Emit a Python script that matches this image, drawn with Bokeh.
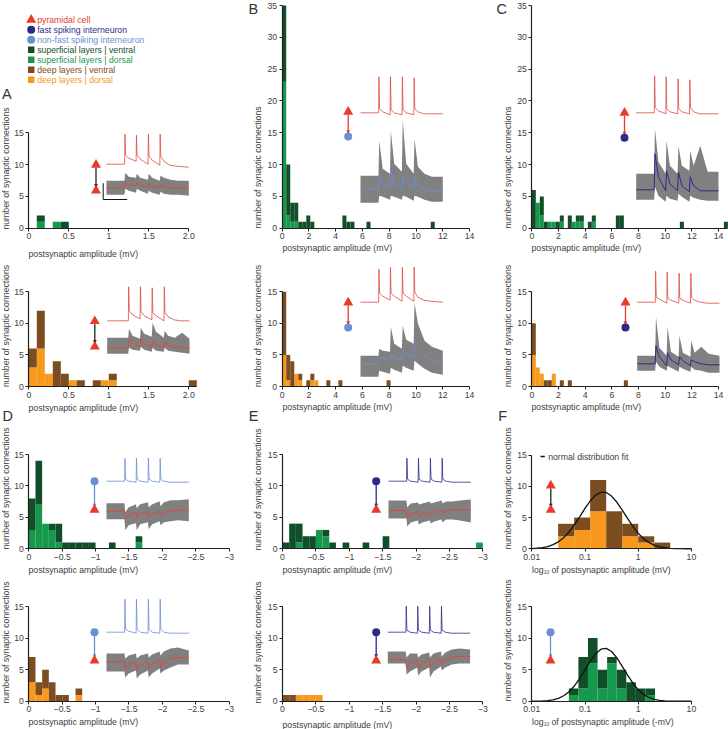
import math
from bokeh.plotting import figure
from bokeh.layouts import column, row
from bokeh.models import Range1d, LinearScale, FixedTicker, Label
from bokeh.embed import file_html
from bokeh.resources import INLINE

# ---------- colours ----------
RED = "#e8392a"; TRACE_RED = "#dd4a3f"; NAVY = "#2b2b87"; LIGHT = "#6c8fd2"
SV = "#114f2b"; SD = "#17994d"; DV = "#7d4d22"; DD = "#f8991d"
GREY = "#808080"; TXT = "#404040"; AXC = "#1e1e1e"
FONT = "Liberation Sans"; FS = "8.7px"

# ---------- histogram values (bin lefts, lower stack, upper stack) ----------
a1_lefts = [0.1, 0.3, 0.4]
a1_dorsal = [1, 1, 0]
a1_ventral = [1, 0, 1]
a2_lefts = [0, 0.1, 0.2, 0.3, 0.4, 0.5, 0.6, 0.8, 0.9, 1.0, 2.0]
a2_dorsal = [3, 6, 2, 0, 0, 1, 0, 0, 1, 1, 0]
a2_ventral = [3, 6, 0, 4, 2, 0, 1, 1, 0, 1, 1]
b1_lefts = [0, 0.3, 0.6, 0.9, 1.2, 1.5, 1.8, 2.1, 4.5, 4.8, 5.1, 6.3, 11.1]
b1_dorsal = [23, 2, 1, 1, 0, 0, 0, 0, 0, 0, 0, 0, 0]
b1_ventral = [12, 8, 3, 3, 1, 1, 2, 1, 2, 1, 1, 1, 1]
b2_lefts = [0, 0.3, 0.6, 0.9, 1.2, 1.8, 2.1, 2.4, 3.3, 4.2, 7.8]
b2_dorsal = [5, 1, 0, 2, 1, 0, 1, 1, 0, 0, 0]
b2_ventral = [10, 4, 4, 0, 1, 1, 1, 0, 1, 1, 1]
c1_lefts = [0, 0.3, 0.6, 0.9, 1.2, 1.5, 1.8, 2.1, 2.7, 3.0, 3.3, 3.6, 4.2, 4.5, 6.3, 6.6, 11.1, 14.4]
c1_dorsal = [0, 4, 2, 0, 1, 1, 0, 1, 0, 1, 1, 1, 0, 1, 0, 0, 0, 0]
c1_ventral = [6, 0, 3, 1, 0, 0, 1, 1, 2, 0, 1, 1, 1, 1, 2, 2, 1, 1]
c2_lefts = [0, 0.3, 0.6, 0.9, 1.2, 1.5, 2.1, 2.7, 6.9]
c2_dorsal = [5, 3, 2, 0, 0, 2, 0, 0, 0]
c2_ventral = [5, 0, 0, 1, 1, 0, 1, 1, 1]
d1_lefts = [0, -0.1, -0.2, -0.3, -0.4, -0.5, -0.6, -0.7, -0.8, -0.9, -1.2, -1.6]
d1_dorsal = [3, 7, 4, 3, 1, 0, 0, 0, 0, 0, 0, 1]
d1_ventral = [5, 7, 0, 1, 3, 1, 1, 1, 1, 1, 1, 1]
d2_lefts = [0, -0.1, -0.2, -0.3, -0.4, -0.5, -0.7]
d2_dorsal = [3, 1, 2, 0, 0, 0, 1]
d2_ventral = [4, 2, 3, 3, 1, 1, 1]
e1_lefts = [0, -0.1, -0.2, -0.3, -0.4, -0.5, -0.6, -0.7, -0.9, -1.2, -1.5, -2.9]
e1_dorsal = [0, 0, 1, 0, 0, 3, 2, 0, 0, 0, 0, 1]
e1_ventral = [1, 4, 3, 2, 2, 0, 1, 1, 1, 1, 2, 0]
e2_lefts = [0, -0.1, -0.2, -0.3, -0.4, -0.5]
e2_dorsal = [0, 0, 1, 1, 1, 1]
e2_ventral = [1, 1, 0, 0, 0, 0]
f1_edges = [1/32, 1/16, 1/8, 1/4, 1/2, 1, 2, 4]
f1_dorsal = [2, 3, 6, 0, 2, 1, 0]
f1_ventral = [2, 2, 5, 6, 2, 1, 1]
f2_log_edges = [-1.304, -1.124, -0.944, -0.764, -0.584, -0.404, -0.224, -0.044, 0.136, 0.316]
f2_dorsal = [1, 2, 6, 2, 6, 2, 0, 0, 1]
f2_ventral = [1, 5, 4, 3, 1, 3, 3, 2, 1]

# normal fit curves
fit_logx = [-2.0, -1.9, -1.8, -1.7, -1.6, -1.5, -1.4, -1.3, -1.2, -1.1, -1.0, -0.9, -0.8, -0.7, -0.6, -0.5,
            -0.4, -0.3, -0.2, -0.1, 0.0, 0.1, 0.2, 0.3, 0.4, 0.5, 0.6, 0.7, 0.8, 0.9, 1.0]
f1_fit = [0.04, 0.09, 0.19, 0.36, 0.66, 1.11, 1.78, 2.69, 3.82, 5.11, 6.45, 7.67, 8.59, 9.05, 9.0, 8.43,
          7.44, 6.19, 4.85, 3.58, 2.48, 1.63, 1.01, 0.59, 0.32, 0.17, 0.08, 0.04, 0.02, 0, 0]
f2_fit = [0.01, 0.02, 0.04, 0.10, 0.22, 0.46, 0.86, 1.49, 2.41, 3.59, 4.96, 6.35, 7.52, 8.24, 8.37, 7.87,
          6.85, 5.52, 4.13, 2.85, 1.82, 1.08, 0.59, 0.30, 0.14, 0.06, 0.02, 0.01, 0, 0, 0]

# ---------- inset recordings ----------
spikes_std = [0.22, 0.36, 0.505, 0.648]
spikes_a2 = [0.257, 0.40, 0.543, 0.69]
a1_pre = [0,0,30,9,6,3,29,9,5,0,30,8,4,-1,30,8,3,-1,-2,-3]
a2_pre = [0,0,34,10,6,2,34,9,5,1,33,8,5,0,34,8,4,1,0,0]
b1_pre = [0,0,36,4,1,-2,36,3,0,-2,36,3,0,-2,35,4,1,-1,-1,-1]
b2_pre = [0,0,33,9,6,2,35,9,6,1,35,9,6,1,35,10,5,2,1,0]
c1_pre = [0,0,37,5,2,-1,36,4,1,-1,34,4,1,-1,33,5,1,-1,-1,-1]
c2_pre = [0,0,31,5,3,-1,30,4,2,-1,29,4,2,-1,29,5,2,0,-1,-1]
d1_pre = [0,0,23,2,0,-1,23,2,0,-1,23,2,0,-1,23,2,0,-1,-1,-1]
d2_pre = [0,0,33,3,1,-1,33,3,0,-1,33,3,0,-1,33,3,0,-1,-1,-1]
e1_pre = [0,0,23,2,0,-1,23,2,0,-1,23,2,0,-1,23,2,0,-1,-1,-1]
e2_pre = [0,0,26,2,0,-1,26,2,0,-1,26,2,0,-1,26,2,0,-1,-1,-1]

a1_up = [7,7,7,15,11,10,14,10,8,14,10,7,12,10,8,7,7]
a1_lo = [-7,-7,-7,-1,-3,-5,-1,-3,-6,-3,-5,-7,-4,-6,-7,-7,-8]
a1_mean = [0,0,0,6,3,2,5,3,1,4,2,0,3,1,0,0,0]
a2_up = [10,10,10,19,12,9,20,14,11,25,16,10,17,12,10,15,9]
a2_lo = [-6,-6,-6,0,-2,-3,1,-2,-4,0,-3,-4,0,-3,-4,-5,-6]
a2_mean = [0,0,0,9,5,1,9,4,0,7,3,0,7,2,1,0,0]
b1_up = [13,13,13,48,20,15,58,25,17,69,25,15,50,22,15,12,12]
b1_lo = [-14,-14,-14,-7,-8,-11,-7,-8,-11,-7,-8,-12,-7,-8,-11,-13,-13]
b1_mean = [0,0,0,12,5,1,18,5,1,13,6,0,12,4,-1,-2,-2]
b2_up = [8,8,8,15,13,12,37,20,15,38,24,20,61,40,23,17,13]
b2_lo = [-13,-13,-13,-7,-8,-10,-4,-6,-9,-2,-4,-7,3,0,-5,-9,-11]
b2_mean = [0,0,0,7,5,3,8,7,4,13,10,7,19,15,8,3,1]
c1_up = [16,16,16,61,28,16,49,24,16,44,24,19,39,24,44,18,18]
c1_lo = [-10,-10,-10,3,-6,-12,-6,-9,-11,-4,-7,-12,-6,-8,-10,-11,-11]
c1_mean = [0,0,0,36,13,-1,19,6,-1,18,4,-2,13,4,-1,-1,-1]
c2_up = [8,8,8,47,16,8,37,12,7,28,11,7,23,11,17,10,8]
c2_lo = [-7,-7,-7,2,-3,-7,-2,-4,-8,-3,-5,-8,-3,-6,-7,-9,-9]
c2_mean = [0,0,0,18,7,-2,11,4,-1,7,3,-2,4,2,0,-1,-1]
d1_up = [8,8,8,-1,4,7,3,7,9,4,7,10,5,9,11,11,12]
d1_lo = [-8,-8,-8,-19,-14,-12,-19,-13,-11,-18,-13,-10,-14,-11,-10,-9,-10]
d1_mean = [0,0,0,-8,-4,-1,-7,-3,-1,-6,-3,0,-4,-1,0,1,1]
d2_up = [8,8,8,3,6,8,3,6,8,4,7,10,6,10,13,14,11]
d2_lo = [-10,-10,-10,-16,-12,-9,-17,-13,-9,-16,-12,-7,-12,-9,-6,-3,-3]
d2_mean = [0,0,0,-8,-3,-1,-9,-4,0,-7,-2,2,-6,-1,3,4,4]
e1_up = [10,10,10,3,7,8,6,7,9,7,8,10,7,9,9,10,11]
e1_lo = [-8,-8,-8,-16,-12,-10,-14,-12,-10,-13,-11,-9,-12,-9,-9,-10,-12]
e1_mean = [0,0,0,-7,-3,-1,-6,-3,-1,-5,-2,0,-3,-1,1,1,1]
e2_up = [8,8,8,2,6,6,2,5,7,2,6,8,3,7,10,11,10]
e2_lo = [-4,-4,-4,-15,-12,-8,-16,-12,-8,-18,-12,-7,-11,-8,-5,-4,-4]
e2_mean = [0,0,0,-9,-4,-1,-9,-4,0,-8,-3,1,-5,-1,2,3,3]

# ---------- tick labels / texts ----------
legend_items = [("pyramidal cell", RED), ("fast spiking interneuron", NAVY), ("non-fast spiking interneuron", LIGHT),
                ("superficial layers | ventral", SV), ("superficial layers | dorsal", SD),
                ("deep layers | ventral", DV), ("deep layers | dorsal", DD)]
XLAB = "postsynaptic amplitude (mV)"; YLAB = "number of synaptic connections"
ticks_a = {0: "0", 0.5: "0.5", 1: "1", 1.5: "1.5", 2: "2.0"}
ticks_b = {v: str(v) for v in (0, 2, 4, 6, 8, 10, 12, 14)}
ticks_d = {0: "0", -0.5: "\u22120.5", -1: "\u22121", -1.5: "\u22121.5", -2: "\u22122", -2.5: "\u22122.5", -3: "\u22123"}
ticks_f = {0.01: "0.01", 0.1: "0.1", 1: "1", 10: "10"}
y15 = [0, 5, 10, 15]; y35 = [0, 5, 10, 15, 20, 25, 30, 35]

# ---------- layout geometry of the sheet ----------
COLS = [(0, 240), (240, 490), (490, 728)]
ROWS = [(0, 260), (260, 425), (425, 577), (577, 729)]


def panel(c, r, x0, y0, ytop, ymax, xscale, ticks, xbound, yticks, log=False):
    """Each cell's plot frame fills the cell; axes are pinned at x0 / y0 inside it."""
    cl, cr = COLS[c]; rt, rb = ROWS[r]
    yscale = (y0 - ytop) / ymax
    sign = 1 if xbound[1] > 0 else -1
    if log:
        xr = Range1d(10 ** (-2 - (x0 - cl) / xscale), 10 ** ((cr - x0) / xscale - 2))
    else:
        xr = Range1d(-sign * (x0 - cl) / xscale, sign * (cr - x0) / xscale)
    p = figure(width=cr - cl, height=rb - rt, x_range=xr,
               y_range=Range1d(-(rb - y0) / yscale, (y0 - rt) / yscale),
               x_axis_type="log" if log else "linear",
               toolbar_location=None, output_backend="svg",
               min_border_left=0, min_border_right=0, min_border_top=0, min_border_bottom=0)
    p.extra_x_ranges = {"px": Range1d(cl, cr)}
    p.extra_y_ranges = {"px": Range1d(rb, rt)}
    p.extra_x_scales = {"px": LinearScale()}
    p.extra_y_scales = {"px": LinearScale()}
    p.outline_line_color = None
    p.grid.visible = False
    p.background_fill_color = None
    p.xaxis.fixed_location = 0
    p.yaxis.fixed_location = 0.01 if log else 0
    for ax, tk, bd in ((p.xaxis, ticks, xbound), (p.yaxis, {v: str(v) for v in yticks}, (0, ymax))):
        ax.ticker = FixedTicker(ticks=list(tk.keys()))
        ax.major_label_overrides = tk
        ax.bounds = bd
        ax.axis_line_color = AXC; ax.axis_line_width = 1.2
        ax.major_tick_line_color = AXC; ax.major_tick_line_width = 1
        ax.major_tick_out = 3; ax.major_tick_in = 0
        ax.minor_tick_line_color = None
        ax.major_label_text_font = FONT; ax.major_label_text_font_size = FS
        ax.major_label_text_color = TXT
        ax.major_label_standoff = 2
    return p


def txt(p, x, y, s, size=FS, color=TXT, angle=0.0, align="left"):
    p.add_layout(Label(x=x, y=y, text=s, x_range_name="px", y_range_name="px",
                       text_font=FONT, text_font_size=size, text_color=color,
                       text_baseline="middle", text_align=align, angle=angle))


def bars(p, lefts, width, dorsal, ventral, cd, cv):
    rights = [l + width for l in lefts]
    tops = [a + b for a, b in zip(dorsal, ventral)]
    p.quad(left=lefts, right=rights, bottom=[0] * len(lefts), top=dorsal, fill_color=cd, line_color=None)
    p.quad(left=lefts, right=rights, bottom=dorsal, top=tops, fill_color=cv, line_color=None)


def log_bars(p, edges, dorsal, ventral, cd, cv):
    tops = [a + b for a, b in zip(dorsal, ventral)]
    p.quad(left=edges[:-1], right=edges[1:], bottom=[0] * len(dorsal), top=dorsal, fill_color=cd, line_color=None)
    p.quad(left=edges[:-1], right=edges[1:], bottom=dorsal, top=tops, fill_color=cv, line_color=None)


def pre_t(s):
    t = [0.0]
    for k in s:
        t += [k, k + 0.004, k + 0.012, k + 0.05]
    return t[:-4] + [s[3], s[3] + 0.004, s[3] + 0.012, s[3] + 0.05, s[3] + 0.12, s[3] + 0.2, 1.0]


def post_t(s):
    t = [0.0, 0.1]
    for k in s:
        t += [k - 0.002, k + 0.008, k + 0.05]
    return t + [s[3] + 0.13, s[3] + 0.22, 1.0]


def inset(p, xl, ypre, ypost, pre, up, lo, mean, cpre, cmean, spikes=spikes_std, wd=82.3):
    tp = pre_t(spikes); tq = post_t(spikes)
    xp = [xl + a * wd for a in tp]; xq = [xl + a * wd for a in tq]
    p.line(xp, [ypre - v for v in pre], x_range_name="px", y_range_name="px", line_color=cpre, line_width=0.8)
    p.varea(xq, [ypost - v for v in up], [ypost - v for v in lo], x_range_name="px", y_range_name="px", fill_color=GREY)
    p.line(xq, [ypost - v for v in mean], x_range_name="px", y_range_name="px", line_color=cmean, line_width=1.0)


def link(p, x, ytop_s, ybot_s, line_col, head_col):
    p.line([x, x], [ytop_s + 3, ybot_s - 3], x_range_name="px", y_range_name="px", line_color=line_col, line_width=1.3)
    p.scatter([x], [ybot_s - 5], marker="inverted_triangle", size=4, x_range_name="px", y_range_name="px",
              fill_color=head_col, line_color=None)


def tri(p, x, y):
    p.scatter([x], [y], marker="triangle", size=10, x_range_name="px", y_range_name="px", fill_color=RED, line_color=None)


def dot(p, x, y, col):
    p.scatter([x], [y], marker="circle", size=8, x_range_name="px", y_range_name="px", fill_color=col, line_color=None)


# ---------- panels ----------
a1 = panel(0, 0, 28.3, 227.7, 132.3, 15, 80, ticks_a, (0, 2), y15)
a2 = panel(0, 1, 28.3, 386, 291.3, 15, 80, ticks_a, (0, 2.1), y15)
b1 = panel(1, 0, 281.7, 227.7, 5, 35, 13.38, ticks_b, (0, 14), y35)
b2 = panel(1, 1, 281.7, 386, 291.3, 15, 13.38, ticks_b, (0, 14), y15)
c1 = panel(2, 0, 531.3, 227.7, 5, 35, 13.34, ticks_b, (0, 14.7), y35)
c2 = panel(2, 1, 531.3, 386, 291.3, 15, 13.34, ticks_b, (0, 14), y15)
d1 = panel(0, 2, 28.3, 548.3, 454, 15, 66.77, ticks_d, (0, -3), y15)
d2 = panel(0, 3, 28.3, 700.7, 606, 15, 66.77, ticks_d, (0, -3), y15)
e1 = panel(1, 2, 282, 548.3, 454, 15, 66.77, ticks_d, (0, -3), y15)
e2 = panel(1, 3, 282, 700.7, 606, 15, 66.77, ticks_d, (0, -3), y15)
f1 = panel(2, 2, 531.3, 548.3, 454.5, 15, 53.2, ticks_f, (0.01, 10), y15, log=True)
f2 = panel(2, 3, 531.3, 700.7, 606, 15, 53.2, ticks_f, (0.01, 10), y15, log=True)

bars(a1, a1_lefts, 0.1, a1_dorsal, a1_ventral, SD, SV)
bars(a2, a2_lefts, 0.1, a2_dorsal, a2_ventral, DD, DV)
bars(b1, b1_lefts, 0.3, b1_dorsal, b1_ventral, SD, SV)
bars(b2, b2_lefts, 0.3, b2_dorsal, b2_ventral, DD, DV)
bars(c1, c1_lefts, 0.3, c1_dorsal, c1_ventral, SD, SV)
bars(c2, c2_lefts, 0.3, c2_dorsal, c2_ventral, DD, DV)
bars(d1, d1_lefts, -0.1, d1_dorsal, d1_ventral, SD, SV)
bars(d2, d2_lefts, -0.1, d2_dorsal, d2_ventral, DD, DV)
bars(e1, e1_lefts, -0.1, e1_dorsal, e1_ventral, SD, SV)
bars(e2, e2_lefts, -0.1, e2_dorsal, e2_ventral, DD, DV)
log_bars(f1, f1_edges, f1_dorsal, f1_ventral, DD, DV)
log_bars(f2, [10 ** v for v in f2_log_edges], f2_dorsal, f2_ventral, SD, SV)
f1.line([10 ** v for v in fit_logx], f1_fit, line_color="#111111", line_width=1.3)
f2.line([10 ** v for v in fit_logx], f2_fit, line_color="#111111", line_width=1.3)

inset(a1, 106, 163.7, 187.3, a1_pre, a1_up, a1_lo, a1_mean, TRACE_RED, TRACE_RED)
inset(a2, 106.7, 320.3, 347.3, a2_pre, a2_up, a2_lo, a2_mean, TRACE_RED, TRACE_RED, spikes=spikes_a2)
inset(b1, 360, 112.3, 188.3, b1_pre, b1_up, b1_lo, b1_mean, TRACE_RED, LIGHT)
inset(b2, 360, 301.7, 363.3, b2_pre, b2_up, b2_lo, b2_mean, TRACE_RED, LIGHT)
inset(c1, 635.7, 112.3, 189.3, c1_pre, c1_up, c1_lo, c1_mean, TRACE_RED, NAVY)
inset(c2, 636.7, 301.7, 363.3, c2_pre, c2_up, c2_lo, c2_mean, TRACE_RED, NAVY)
inset(d1, 106, 480.7, 510.7, d1_pre, d1_up, d1_lo, d1_mean, LIGHT, TRACE_RED)
inset(d2, 106, 631.7, 661, d2_pre, d2_up, d2_lo, d2_mean, LIGHT, TRACE_RED)
inset(e1, 388, 480.7, 510, e1_pre, e1_up, e1_lo, e1_mean, NAVY, TRACE_RED)
inset(e2, 387.3, 631.7, 659, e2_pre, e2_up, e2_lo, e2_mean, NAVY, TRACE_RED)

# scale bar in A
a1.line([102.7, 102.7, 126.7], [182.7, 199, 199], x_range_name="px", y_range_name="px", line_color="#111111", line_width=1)

# connection symbols
for p, x, yt, yb in [(a1, 95.5, 164.3, 190), (a2, 94.3, 320.7, 346), (f1, 550.3, 485, 509.3)]:
    link(p, x, yt, yb, "#222222", "#222222"); tri(p, x, yt); tri(p, x, yb)
for p, x, yt, yb, col in [(b1, 347.7, 111.3, 136, LIGHT), (b2, 347.7, 302, 327, LIGHT),
                          (c1, 624, 112.3, 137.3, NAVY), (c2, 625, 302, 327, NAVY)]:
    link(p, x, yt, yb, RED, RED); tri(p, x, yt); dot(p, x, yb, col)
for p, x, yt, yb, col in [(d1, 94, 480.7, 509.3, LIGHT), (d2, 94, 631.7, 660, LIGHT),
                          (e1, 375.7, 480.7, 509.3, NAVY), (e2, 375.7, 631.7, 660, NAVY),
                          (f2, 550, 631.7, 660, LIGHT)]:
    link(p, x, yt, yb, col, col); dot(p, x, yt, col); tri(p, x, yb)

# axis titles
for p, x, y in [(a1, 5.5, 168), (a2, 5.5, 325.5), (d1, 5.5, 488), (d2, 5.5, 642),
                (b1, 257.7, 167), (b2, 257.7, 325.5), (e1, 257.7, 489), (e2, 257.7, 642),
                (c1, 507.3, 167), (c2, 507.3, 325.5), (f1, 507.3, 488), (f2, 507.3, 640)]:
    txt(p, x, y, YLAB, angle=math.pi / 2, align="center")
for p, x, y in [(a1, 28, 253.3), (a2, 28, 407), (d1, 28, 569), (d2, 28, 721.7),
                (b1, 282, 247), (b2, 282, 406.7), (e1, 282, 569), (e2, 282, 724),
                (c1, 531, 247), (c2, 531, 406.7)]:
    txt(p, x, y, XLAB)
for p, y, tail in [(f1, 569, "of postsynaptic amplitude (mV)"), (f2, 721.7, "of postsynaptic amplitude (-mV)")]:
    txt(p, 531.6, y, "log")
    txt(p, 543.2, y + 2, "10", size="5px")
    txt(p, 551, y, tail)

# panel letters
for p, x, y, s in [(a1, 1.5, 93.7, "A"), (b1, 248, 8.3, "B"), (c1, 496, 8.3, "C"),
                   (a2, 2, 415, "D"), (b2, 248.3, 415, "E"), (c2, 497.7, 415, "F")]:
    txt(p, x, y, s, size="14.5px", color="#333333")

# legend
for k, (s, col) in enumerate(legend_items):
    y = 19.3 + 10 * k
    if k == 0:
        tri(a1, 30.7, y)
    elif k < 3:
        dot(a1, 30.7, y, col)
    else:
        a1.scatter([30.7], [y], marker="square", size=6.5, x_range_name="px", y_range_name="px", fill_color=col, line_color=None)
    txt(a1, 36.7, y, s, color=col)

# fit key
f1.line([540, 544.3], [456, 456], x_range_name="px", y_range_name="px", line_color="#111111", line_width=1.5)
txt(f1, 547.7, 456, "normal distribution fit")

page = column(row(a1, b1, c1, spacing=0), row(a2, b2, c2, spacing=0),
              row(d1, e1, f1, spacing=0), row(d2, e2, f2, spacing=0),
              spacing=0)
open("out.html", "w").write(file_html(page, INLINE))
